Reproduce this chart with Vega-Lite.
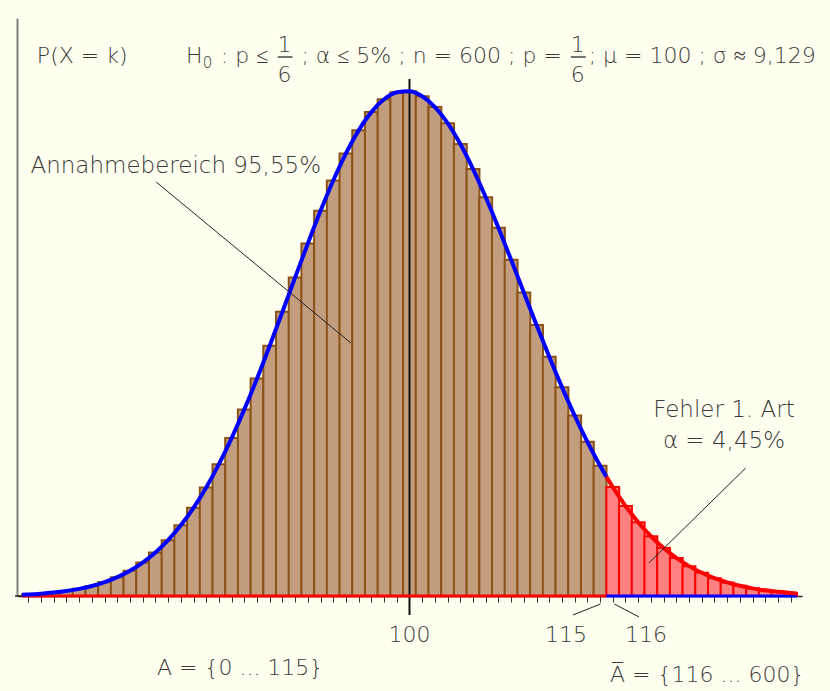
{
  "$schema": "https://vega.github.io/schema/vega-lite/v6.json",
  "width": 785,
  "height": 578,
  "autosize": {"type": "none"},
  "padding": {"left": 17, "top": 18, "right": 28, "bottom": 95},
  "background": "#FFFFF0",
  "config": {"view": {"stroke": null}},
  "datasets": {
    "bars": [
      {"k":70,"p":0.000137,"region":"A"},{"k":71,"p":0.000204,"region":"A"},{"k":72,"p":0.000299,"region":"A"},{"k":73,"p":0.000433,"region":"A"},
      {"k":74,"p":0.000617,"region":"A"},{"k":75,"p":0.000866,"region":"A"},{"k":76,"p":0.001197,"region":"A"},{"k":77,"p":0.001629,"region":"A"},
      {"k":78,"p":0.002185,"region":"A"},{"k":79,"p":0.002888,"region":"A"},{"k":80,"p":0.003762,"region":"A"},{"k":81,"p":0.00483,"region":"A"},
      {"k":82,"p":0.006114,"region":"A"},{"k":83,"p":0.007632,"region":"A"},{"k":84,"p":0.009395,"region":"A"},{"k":85,"p":0.011406,"region":"A"},
      {"k":86,"p":0.013661,"region":"A"},{"k":87,"p":0.016142,"region":"A"},{"k":88,"p":0.01882,"region":"A"},{"k":89,"p":0.021654,"region":"A"},
      {"k":90,"p":0.024589,"region":"A"},{"k":91,"p":0.027561,"region":"A"},{"k":92,"p":0.030497,"region":"A"},{"k":93,"p":0.033317,"region":"A"},
      {"k":94,"p":0.03594,"region":"A"},{"k":95,"p":0.038286,"region":"A"},{"k":96,"p":0.04028,"region":"A"},{"k":97,"p":0.041858,"region":"A"},
      {"k":98,"p":0.042969,"region":"A"},{"k":99,"p":0.043577,"region":"A"},{"k":100,"p":0.043664,"region":"A"},{"k":101,"p":0.043232,"region":"A"},
      {"k":102,"p":0.0423,"region":"A"},{"k":103,"p":0.040904,"region":"A"},{"k":104,"p":0.039095,"region":"A"},{"k":105,"p":0.036935,"region":"A"},
      {"k":106,"p":0.034496,"region":"A"},{"k":107,"p":0.031852,"region":"A"},{"k":108,"p":0.02908,"region":"A"},{"k":109,"p":0.026252,"region":"A"},
      {"k":110,"p":0.023436,"region":"A"},{"k":111,"p":0.020691,"region":"A"},{"k":112,"p":0.018068,"region":"A"},{"k":113,"p":0.015606,"region":"A"},
      {"k":114,"p":0.013333,"region":"A"},{"k":115,"p":0.011269,"region":"A"},
      {"k":116,"p":0.009423,"region":"Abar"},{"k":117,"p":0.007796,"region":"Abar"},{"k":118,"p":0.006382,"region":"Abar"},{"k":119,"p":0.00517,"region":"Abar"},
      {"k":120,"p":0.004145,"region":"Abar"},{"k":121,"p":0.003289,"region":"Abar"},{"k":122,"p":0.002583,"region":"Abar"},{"k":123,"p":0.002008,"region":"Abar"},
      {"k":124,"p":0.001545,"region":"Abar"},{"k":125,"p":0.001177,"region":"Abar"},{"k":126,"p":0.000887,"region":"Abar"},{"k":127,"p":0.000662,"region":"Abar"},
      {"k":128,"p":0.000489,"region":"Abar"},{"k":129,"p":0.000358,"region":"Abar"},{"k":130,"p":0.000259,"region":"Abar"}
    ],
    "curveA": [
      {"k":69.5,"p":0.000111},
      {"k":70,"p":0.000137},{"k":71,"p":0.000204},{"k":72,"p":0.000299},{"k":73,"p":0.000433},
      {"k":74,"p":0.000617},{"k":75,"p":0.000866},{"k":76,"p":0.001197},{"k":77,"p":0.001629},
      {"k":78,"p":0.002185},{"k":79,"p":0.002888},{"k":80,"p":0.003762},{"k":81,"p":0.00483},
      {"k":82,"p":0.006114},{"k":83,"p":0.007632},{"k":84,"p":0.009395},{"k":85,"p":0.011406},
      {"k":86,"p":0.013661},{"k":87,"p":0.016142},{"k":88,"p":0.01882},{"k":89,"p":0.021654},
      {"k":90,"p":0.024589},{"k":91,"p":0.027561},{"k":92,"p":0.030497},{"k":93,"p":0.033317},
      {"k":94,"p":0.03594},{"k":95,"p":0.038286},{"k":96,"p":0.04028},{"k":97,"p":0.041858},
      {"k":98,"p":0.042969},{"k":99,"p":0.043577},{"k":100,"p":0.043664},{"k":101,"p":0.043232},
      {"k":102,"p":0.0423},{"k":103,"p":0.040904},{"k":104,"p":0.039095},{"k":105,"p":0.036935},
      {"k":106,"p":0.034496},{"k":107,"p":0.031852},{"k":108,"p":0.02908},{"k":109,"p":0.026252},
      {"k":110,"p":0.023436},{"k":111,"p":0.020691},{"k":112,"p":0.018068},{"k":113,"p":0.015606},
      {"k":114,"p":0.013333},{"k":115,"p":0.011269},{"k":115.5,"p":0.01031}
    ],
    "curveAbar": [
      {"k":115.5,"p":0.01031},
      {"k":116,"p":0.009423},{"k":117,"p":0.007796},{"k":118,"p":0.006382},{"k":119,"p":0.00517},
      {"k":120,"p":0.004145},{"k":121,"p":0.003289},{"k":122,"p":0.002583},{"k":123,"p":0.002008},
      {"k":124,"p":0.001545},{"k":125,"p":0.001177},{"k":126,"p":0.000887},{"k":127,"p":0.000662},
      {"k":128,"p":0.000489},{"k":129,"p":0.000358},{"k":130,"p":0.000259},{"k":130.5,"p":0.000219}
    ],
    "baseA": [{"k":69.5,"k2":115.5,"p":0}],
    "baseAbar": [{"k":115.5,"k2":130.5,"p":0}],
    "axisStub": [{"k":68.95,"k2":69.5,"p":0}],
    "meanLine": [{"k":100,"p":-0.00164,"p2":0.04472}],
    "yticks": [{"p":0.025},{"p":0.05}],
    "leaders": [
      {"k":80.07,"p":0.03581,"k2":95.38,"p2":0.02189},
      {"k":126.46,"p":0.01107,"k2":118.84,"p2":0.002855},
      {"k":115.04,"p":-0.000692,"k2":112.86,"p2":-0.001644},
      {"k":116.12,"p":-0.000692,"k2":118.07,"p2":-0.001817}
    ],
    "fracBars": [
      {"k":89.63,"k2":90.79,"p":0.046626},
      {"k":112.7,"k2":113.87,"p":0.046626}
    ],
    "leftTexts": [
      {"k":70.67,"p":0.046107,"text":"P(X = k)"},
      {"k":82.4,"p":0.046107,"text":"H"},
      {"k":85.15,"p":0.046107,"text":": p ≤"},
      {"k":91.49,"p":0.046107,"text":"; α ≤ 5% ; n = 600 ; p ="},
      {"k":114.1,"p":0.046107,"text":"; μ = 100 ; σ ≈ 9,129"}
    ],
    "subTexts": [
      {"k":83.72,"p":0.045675,"text":"0"}
    ],
    "centerTexts": [
      {"k":90.17,"p":0.04706,"text":"1"},
      {"k":90.17,"p":0.04446,"text":"6"},
      {"k":113.25,"p":0.04706,"text":"1"},
      {"k":113.25,"p":0.04446,"text":"6"},
      {"k":100,"p":-0.003979,"text":"100"},
      {"k":112.32,"p":-0.003979,"text":"115"},
      {"k":118.61,"p":-0.003979,"text":"116"},
      {"k":86.67,"p":-0.006834,"text":"A = {0 ... 115}"},
      {"k":123.43,"p":-0.00744,"text":"A̅ = {116 ... 600}"}
    ],
    "annotations": [
      {"k":81.6,"p":0.03659,"text":"Annahmebereich 95,55%"},
      {"k":124.75,"p":0.015484,"text":"Fehler 1. Art"},
      {"k":124.75,"p":0.012803,"text":"α = 4,45%"}
    ]
  },
  "encoding": {
    "x": {
      "field": "k", "type": "quantitative",
      "scale": {"domain": [69.5, 130.5], "nice": false, "zero": false},
      "axis": {"title": null, "labels": false, "grid": false, "tickCount": 61, "tickSize": 6, "tickColor": "#333333", "tickWidth": 1, "domainColor": "#222222", "domainWidth": 1.5}
    },
    "y": {
      "field": "p", "type": "quantitative",
      "scale": {"domain": [0, 0.05], "nice": false},
      "axis": {"title": null, "labels": false, "ticks": false, "grid": false, "domainColor": "#808080", "domainWidth": 2}
    }
  },
  "layer": [
    {
      "data": {"name": "bars"},
      "mark": {"type": "bar", "size": 12.87, "strokeWidth": 2},
      "encoding": {
        "fill": {"field": "region", "type": "nominal", "scale": {"domain": ["A", "Abar"], "range": ["#C39E7E", "#FF8080"]}, "legend": null},
        "stroke": {"field": "region", "type": "nominal", "scale": {"domain": ["A", "Abar"], "range": ["#8B5218", "#FF0000"]}, "legend": null}
      }
    },
    {
      "data": {"name": "meanLine"},
      "mark": {"type": "rule", "color": "#111111", "strokeWidth": 2},
      "encoding": {"y2": {"field": "p2"}}
    },
    {
      "data": {"name": "axisStub"},
      "mark": {"type": "rule", "color": "#222222", "strokeWidth": 1.5},
      "encoding": {"x2": {"field": "k2"}}
    },
    {
      "data": {"name": "baseA"},
      "mark": {"type": "rule", "color": "#FF0000", "strokeWidth": 3},
      "encoding": {"x2": {"field": "k2"}}
    },
    {
      "data": {"name": "baseAbar"},
      "mark": {"type": "rule", "color": "#0000FF", "strokeWidth": 3},
      "encoding": {"x2": {"field": "k2"}}
    },
    {
      "data": {"name": "curveA"},
      "mark": {"type": "line", "interpolate": "monotone", "color": "#0000FF", "strokeWidth": 4}
    },
    {
      "data": {"name": "curveAbar"},
      "mark": {"type": "line", "interpolate": "monotone", "color": "#FF0000", "strokeWidth": 4}
    },
    {
      "data": {"name": "yticks"},
      "mark": {"type": "rule", "color": "#000000", "strokeWidth": 2},
      "encoding": {
        "x": {"datum": 68.95, "type": "quantitative"},
        "x2": {"datum": 70.2}
      }
    },
    {
      "data": {"name": "leaders"},
      "mark": {"type": "rule", "color": "#222222", "strokeWidth": 1},
      "encoding": {"x2": {"field": "k2"}, "y2": {"field": "p2"}}
    },
    {
      "data": {"name": "fracBars"},
      "mark": {"type": "rule", "color": "#444444", "strokeWidth": 1.5},
      "encoding": {"x2": {"field": "k2"}}
    },
    {
      "data": {"name": "leftTexts"},
      "mark": {"type": "text", "align": "left", "baseline": "alphabetic", "font": "DejaVu Sans", "fontWeight": 200, "fontSize": 22, "color": "#3a3a3a"},
      "encoding": {"text": {"field": "text"}}
    },
    {
      "data": {"name": "subTexts"},
      "mark": {"type": "text", "align": "left", "baseline": "alphabetic", "font": "DejaVu Sans", "fontWeight": 200, "fontSize": 15, "color": "#3a3a3a"},
      "encoding": {"text": {"field": "text"}}
    },
    {
      "data": {"name": "centerTexts"},
      "mark": {"type": "text", "align": "center", "baseline": "alphabetic", "font": "DejaVu Sans", "fontWeight": 200, "fontSize": 22, "color": "#3a3a3a"},
      "encoding": {"text": {"field": "text"}}
    },
    {
      "data": {"name": "annotations"},
      "mark": {"type": "text", "align": "center", "baseline": "alphabetic", "font": "DejaVu Sans", "fontWeight": 200, "fontSize": 23, "color": "#3a3a3a"},
      "encoding": {"text": {"field": "text"}}
    }
  ]
}
